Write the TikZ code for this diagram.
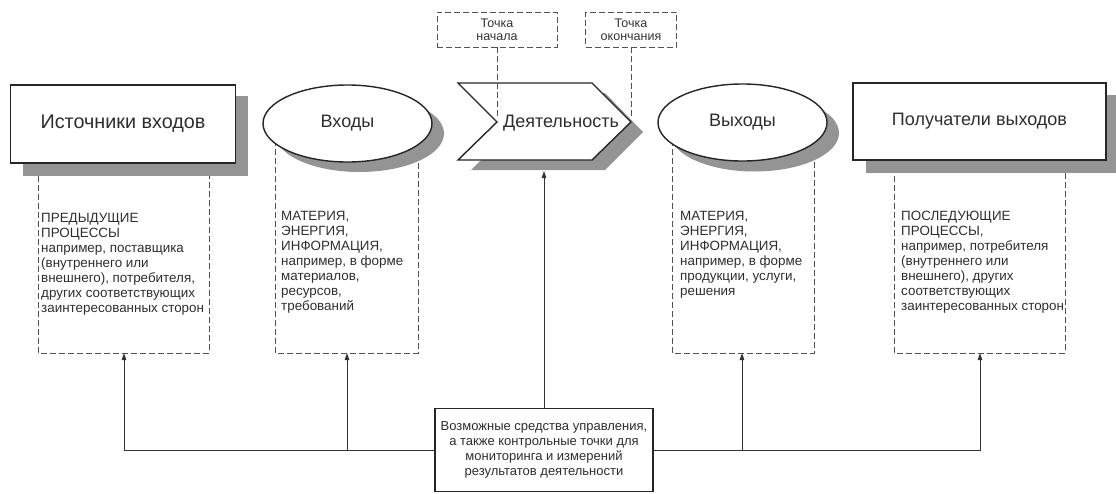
\documentclass[tikz,border=0pt]{standalone}
\usepackage{fontspec}
\setmainfont{Liberation Sans}
\usetikzlibrary{shapes.geometric,arrows.meta}
\begin{document}
\begin{tikzpicture}[x=1pt,y=-1pt,
  shadowc/.style={fill=black!42, draw=none},
  mainline/.style={draw=black!85, line width=1.4pt, fill=white},
  mainbox/.style={mainline, rectangle, inner sep=0pt, text=black!82, font=\fontsize{18}{20}\selectfont},
  mainell/.style={mainline, ellipse, inner sep=0pt, minimum width=169pt, minimum height=77pt, text=black!82, font=\fontsize{18}{20}\selectfont},
  dashbox/.style={draw=black!68, line width=0.9pt, dash pattern=on 6pt off 3pt},
  topbox/.style={dashbox, fill=white, rectangle, inner sep=0pt, minimum height=35pt, align=center, text=black!80, font=\fontsize{12.5}{13}\selectfont},
  coltext/.style={anchor=north west, align=left, inner sep=0pt, text=black!82, font=\fontsize{13.4}{15}\selectfont},
  conn/.style={draw=black!80, line width=0.9pt},
  arr/.style={conn, -{Triangle[length=7pt,width=4.5pt]}},
  ctrlbox/.style={draw=black!85, line width=1.8pt, fill=white, rectangle, inner sep=0pt, minimum width=218pt, minimum height=83pt, align=center, text=black!82, font=\fontsize{13}{15}\selectfont}
]
\useasboundingbox (0,0) rectangle (1116,493);

% dashed column frames
\draw[dashbox] (38,140) -- (38,353) -- (209,353) -- (209,140);
\draw[dashbox] (275,140) -- (275,353) -- (418,353) -- (418,140);
\draw[dashbox] (672,140) -- (672,353) -- (814,353) -- (814,140);
\draw[dashbox] (894,140) -- (894,353) -- (1065,353) -- (1065,140);

\coordinate (c1b) at (124,353);
\coordinate (c2b) at (347,353);
\coordinate (c4b) at (742,353);
\coordinate (c5b) at (980,353);

% source box
\fill[shadowc] (23,96) rectangle (248,176);
\node[mainbox, minimum width=225pt, minimum height=78pt, font=\fontsize{19.8}{22}\selectfont] (src) at (123,124) {Источники входов};

% inputs ellipse
\fill[shadowc] (359.5,133.5) ellipse [x radius=84.5, y radius=38.5];
\node[mainell] (inp) at (347.5,123.5) {Входы};

% activity
\fill[shadowc] (471,93) -- (605,93) -- (643,132) -- (605,170) -- (471,170) -- (510,132) -- cycle;
\draw[mainline] (458,83) -- (592,83) -- (631,122) -- (592,160) -- (458,160) -- (497,122) -- cycle;
\node[inner sep=0pt, text=black!82, font=\fontsize{18}{20}\selectfont] (act) at (561,123) {Деятельность};
\coordinate (notch) at (497,119);
\coordinate (tip) at (631,119);
\coordinate (actbot) at (544,171);

% top labels
\node[topbox, minimum width=120pt] (start) at (497,29.5) {Точка\\начала};
\node[topbox, minimum width=91pt] (finish) at (631,29.5) {Точка\\окончания};
\draw[dashbox] (start.south) -- (notch);
\draw[dashbox] (finish.south) -- (tip);

% outputs ellipse
\fill[shadowc] (754.5,133) ellipse [x radius=84.5, y radius=38.5];
\node[mainell] (outp) at (742.5,122.5) {Выходы};

% recipients box
\fill[shadowc] (866,95) rectangle (1116,173);
\node[mainbox, minimum width=253pt, minimum height=77pt] (rec) at (979.5,121.5) {Получатели выходов};

% column texts
\node[coltext] (t1) at (41,213.5) {ПРЕДЫДУЩИЕ\\ПРОЦЕССЫ\\например, поставщика\\(внутреннего или\\внешнего), потребителя,\\других соответствующих\\заинтересованных сторон};
\node[coltext] (t2) at (281,211.5) {МАТЕРИЯ,\\ЭНЕРГИЯ,\\ИНФОРМАЦИЯ,\\например, в форме\\материалов,\\ресурсов,\\требований};
\node[coltext] (t4) at (680,211) {МАТЕРИЯ,\\ЭНЕРГИЯ,\\ИНФОРМАЦИЯ,\\например, в форме\\продукции, услуги,\\решения};
\node[coltext] (t5) at (901,211) {ПОСЛЕДУЮЩИЕ\\ПРОЦЕССЫ,\\например, потребителя\\(внутреннего или\\внешнего), других\\соответствующих\\заинтересованных сторон};

% control box
\node[ctrlbox] (ctrl) at (544,450) {Возможные средства управления,\\а также контрольные точки для\\мониторинга и измерений\\результатов деятельности};

% connectors
\draw[arr] (ctrl.north) -- (actbot);
\draw[arr] (ctrl.west) -| (c1b);
\draw[arr] (ctrl.west -| c2b) -- (c2b);
\draw[arr] (ctrl.east) -| (c5b);
\draw[arr] (ctrl.east -| c4b) -- (c4b);
\end{tikzpicture}
\end{document}
